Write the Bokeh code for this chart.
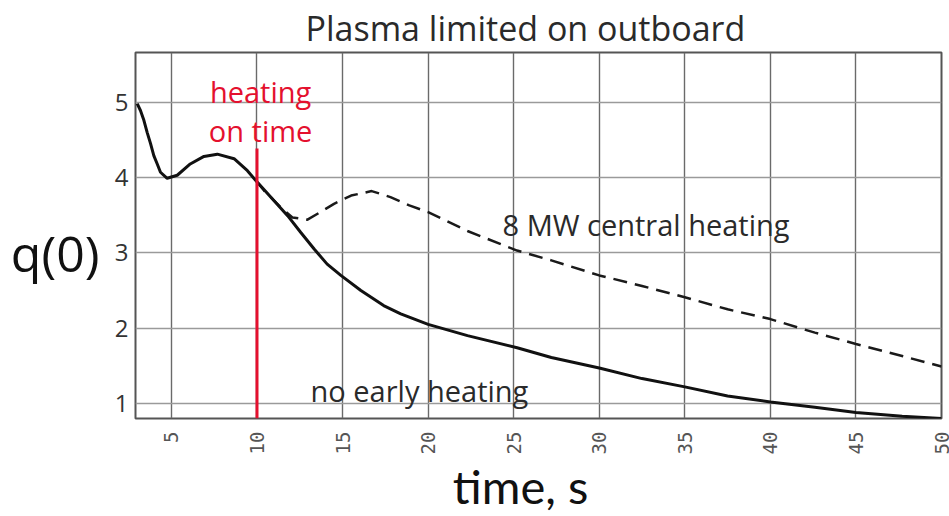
import math
from bokeh.plotting import figure
from bokeh.models import FixedTicker, Label, Range1d, LinearAxis
from bokeh.embed import file_html
from bokeh.resources import INLINE

# ---- data ----
t_no_heat = [3.0, 3.19, 3.39, 3.58, 3.78, 3.97, 4.17, 4.36, 4.75, 5.34, 6.1, 6.9, 7.68,
             8.66, 9.44, 9.93, 10.8, 11.8, 12.56, 13.34, 14.1, 14.9, 16.07, 17.4, 18.4,
             20.0, 22.3, 25.2, 27.2, 30.0, 32.5, 35.0, 37.5, 40.0, 42.6, 45.0, 47.7, 50.0]
q_no_heat = [4.98, 4.89, 4.76, 4.60, 4.45, 4.29, 4.18, 4.07, 3.99, 4.03, 4.18, 4.28, 4.31,
             4.25, 4.09, 3.96, 3.74, 3.49, 3.27, 3.05, 2.85, 2.70, 2.50, 2.30, 2.19,
             2.05, 1.90, 1.74, 1.61, 1.47, 1.33, 1.22, 1.10, 1.02, 0.95, 0.88, 0.83, 0.80]

t_heat = [9.93, 10.4, 11.4, 12.07, 12.95, 13.7, 14.5, 15.5, 16.7, 17.8, 18.9, 20.0,
          22.3, 25.2, 27.2, 30.0, 32.5, 35.0, 37.5, 40.0, 42.6, 45.0, 47.7, 50.0]
q_heat = [3.96, 3.83, 3.60, 3.47, 3.44, 3.54, 3.65, 3.76, 3.82, 3.74, 3.63, 3.54,
          3.29, 3.03, 2.90, 2.70, 2.56, 2.41, 2.25, 2.12, 1.94, 1.79, 1.63, 1.49]

heating_on_time = 10.0
x_ticks = [5, 10, 15, 20, 25, 30, 35, 40, 45, 50]
x_tick_labels = {5: "5", 10: "10", 15: "15", 20: "20", 25: "25",
                 30: "30", 35: "35", 40: "40", 45: "45", 50: "50"}
y_ticks = [1, 2, 3, 4, 5]
x_title, x_title_at = "time, s", 25.4
y_title, y_title_at = "q(0)", 3

FONT = "Open Sans"
DARK = "#2a2a2a"
RED = "#e4102e"

p = figure(width=949, height=516, output_backend="svg", toolbar_location=None,
           x_range=Range1d(2.9, 50.0), y_range=Range1d(0.8, 5.66),
           min_border_left=135, min_border_right=8, min_border_top=52,
           min_border_bottom=98, title="Plasma limited on outboard")
p.background_fill_color = "white"
p.border_fill_color = "white"
p.outline_line_color = "#555555"
p.outline_line_width = 2

p.title.text_font = FONT
p.title.text_font_size = "34px"
p.title.text_font_style = "normal"
p.title.text_color = DARK
p.title.align = "left"
p.title.offset = 170
p.title.standoff = 3

# axes
p.xaxis.ticker = FixedTicker(ticks=x_ticks)
p.xaxis.major_label_overrides = x_tick_labels
p.xaxis.major_label_orientation = math.pi / 2
p.xaxis.major_label_text_font = "DejaVu Sans Mono"
p.xaxis.major_label_text_font_size = "19px"
p.xaxis.major_label_text_color = "#555555"
p.xaxis.major_label_standoff = 13

p.yaxis.ticker = FixedTicker(ticks=y_ticks)
p.yaxis.major_label_text_font = FONT
p.yaxis.major_label_text_font_size = "24px"
p.yaxis.major_label_text_color = "#333333"
p.yaxis.major_label_standoff = 7

# axis titles drawn as single tick labels of extra axes (exact placement)
xt = LinearAxis(ticker=FixedTicker(ticks=[x_title_at]),
                major_label_overrides={x_title_at: x_title})
xt.major_label_text_font = "Lato"
xt.major_label_text_font_size = "47px"
xt.major_label_text_color = "#111111"
xt.major_label_standoff = 0
p.add_layout(xt, "below")

yt = LinearAxis(ticker=FixedTicker(ticks=[y_title_at]),
                major_label_overrides={y_title_at: y_title})
yt.major_label_text_font = FONT
yt.major_label_text_font_size = "50px"
yt.major_label_text_color = "#111111"
yt.major_label_standoff = 12
p.add_layout(yt, "left")

for ax in (p.xaxis[0], p.yaxis[0], xt, yt):
    ax.axis_line_color = None
    ax.major_tick_line_color = None
    ax.minor_tick_line_color = None
    ax.major_tick_out = 0
    ax.minor_tick_out = 0

p.xgrid.ticker = FixedTicker(ticks=x_ticks)
p.ygrid.ticker = FixedTicker(ticks=y_ticks)
p.xgrid.grid_line_color = "#6a6a6a"
p.xgrid.grid_line_width = 1.4
p.ygrid.grid_line_color = "#9a9a9a"
p.ygrid.grid_line_width = 1.4

# curves
p.line(t_heat, q_heat, line_color="#1a1a1a", line_width=2.5, line_dash="14 8")
p.line(t_no_heat, q_no_heat, line_color="#111111", line_width=3)
p.segment(x0=[heating_on_time], y0=[4.386], x1=[heating_on_time], y1=[0.8],
          line_color=RED, line_width=3)

# text annotations
def add_label(x, y, text, size, color=DARK, align="left"):
    p.add_layout(Label(x=x, y=y, text=text, text_font=FONT, text_font_size=size,
                       text_color=color, text_align=align,
                       text_baseline="alphabetic"))

add_label(10.21, 5.143, "heating", "29px", RED, "center")
add_label(10.21, 4.625, "on time", "29px", RED, "center")
add_label(24.35, 3.376, "8 MW central heating", "29px")
add_label(13.13, 1.172, "no early heating", "29px")

open("out.html", "w").write(file_html(p, INLINE))
